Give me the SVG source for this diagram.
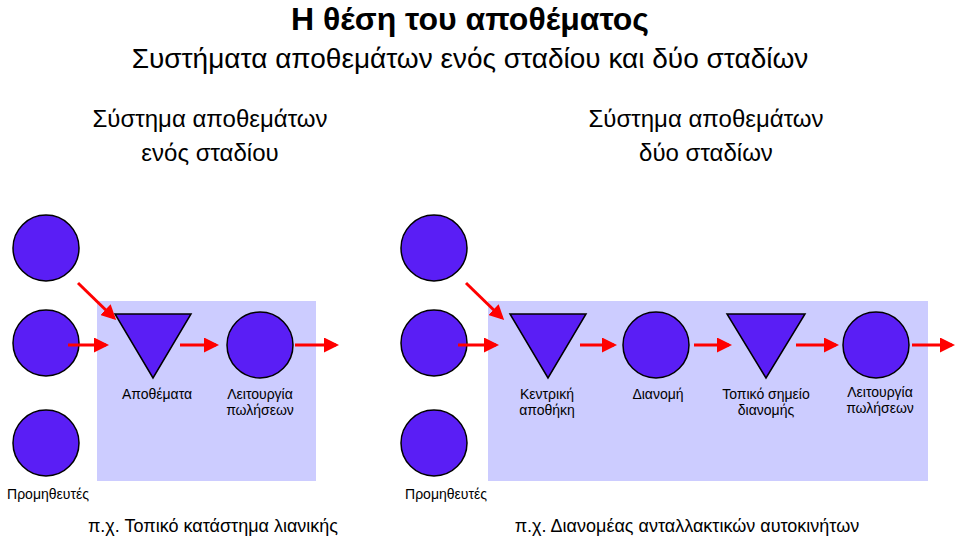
<svg xmlns="http://www.w3.org/2000/svg" width="960" height="538" viewBox="0 0 960 538">
<style>
text{font-family:"Liberation Sans",Arial,sans-serif;fill:#000;text-anchor:middle}
.n{fill:#5a1ef5;stroke:#000;stroke-width:1.5}
.bg{fill:#ccccff}
.a{stroke:#ff0000;stroke-width:3;fill:none;marker-end:url(#ah)}
.l{font-size:14px}
</style>
<defs><marker id="ah" markerWidth="5" markerHeight="5" refX="4" refY="2.5" orient="auto"><path d="M0,0L5,2.5L0,5z" fill="#ff0000"/></marker></defs>
<rect fill="#fff" width="960" height="538"/>
<text x="470" y="30" font-size="32" font-weight="bold">Η θέση του αποθέματος</text>
<text x="470" y="68" font-size="28">Συστήματα αποθεμάτων ενός σταδίου και δύο σταδίων</text>
<text x="210" y="127" font-size="24">Σύστημα αποθεμάτων</text>
<text x="210" y="161" font-size="24">ενός σταδίου</text>
<text x="706" y="127" font-size="24">Σύστημα αποθεμάτων</text>
<text x="706" y="161" font-size="24">δύο σταδίων</text>
<rect class="bg" x="97" y="301" width="219" height="180"/>
<rect class="bg" x="488" y="301" width="440" height="180"/>
<g id="s1"><circle class="n" cx="46" cy="248" r="33"/><circle class="n" cx="46" cy="343" r="33"/><circle class="n" cx="46" cy="443" r="33"/><text class="l" x="48" y="499">Προμηθευτές</text></g>
<g id="s2"><circle class="n" cx="434" cy="248" r="33"/><circle class="n" cx="434" cy="343" r="33"/><circle class="n" cx="434" cy="443" r="33"/><text class="l" x="446" y="499">Προμηθευτές</text></g>
<g id="inv1"><path class="n" d="M115,314H191L153,378z"/><text class="l" x="157" y="399">Αποθέματα</text></g>
<g id="sales1"><circle class="n" cx="260" cy="345" r="33"/><text class="l" x="260" y="399">Λειτουργία</text><text class="l" x="260" y="415">πωλήσεων</text></g>
<g id="wh"><path class="n" d="M510,314H586L548,378z"/><text class="l" x="547" y="399">Κεντρική</text><text class="l" x="547" y="415">αποθήκη</text></g>
<g id="dist"><circle class="n" cx="656" cy="345" r="33"/><text class="l" x="658" y="399">Διανομή</text></g>
<g id="local"><path class="n" d="M727,314H805L766,378z"/><text class="l" x="766" y="399">Τοπικό σημείο</text><text class="l" x="766" y="415">διανομής</text></g>
<g id="sales2"><circle class="n" cx="876" cy="345" r="33"/><text class="l" x="880" y="397">Λειτουργία</text><text class="l" x="880" y="413">πωλήσεων</text></g>
<g id="connectors">
<path class="a" d="M78,283L114,318"/><path class="a" d="M68,345H106"/><path class="a" d="M180,345H216"/><path class="a" d="M295,345H336"/>
<path class="a" d="M466,283L502,318"/><path class="a" d="M458,345H496"/><path class="a" d="M580,345H614"/><path class="a" d="M694,345H729"/><path class="a" d="M796,345H836"/><path class="a" d="M912,345H952"/>
</g>
<text x="213" y="532" font-size="18">π.χ. Τοπικό κατάστημα λιανικής</text>
<text x="687" y="532" font-size="18">π.χ. Διανομέας ανταλλακτικών αυτοκινήτων</text>
</svg>
